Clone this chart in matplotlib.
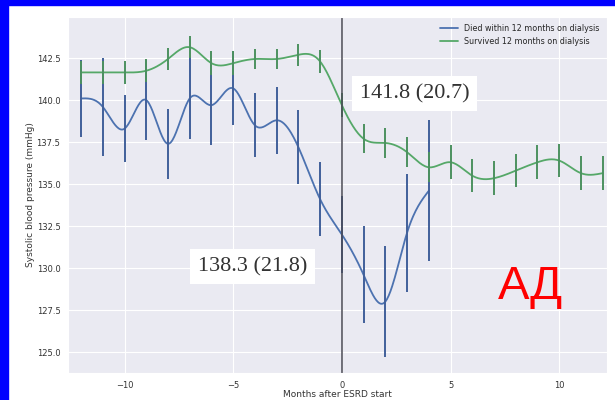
import numpy as np
import matplotlib.pyplot as plt
import matplotlib.patches as mpatches
import seaborn as sns

sns.set_style('darkgrid')

# Mean systolic BP (mmHg) per month relative to ESRD start, with error bars
months_died = [-12, -11, -10, -9, -8, -7, -6, -5, -4, -3, -2, -1, 0, 1, 2, 3, 4]
sbp_died = [140.1, 139.6, 138.3, 140.0, 137.4, 140.1, 139.7, 140.7, 138.5, 138.8,
            137.2, 134.1, 132.0, 129.6, 128.0, 132.1, 134.6]
err_died = [2.3, 2.9, 2.0, 2.4, 2.1, 2.4, 2.4, 2.2, 1.9, 2.0,
            2.2, 2.2, 2.3, 2.9, 3.3, 3.5, 4.2]

months_surv = list(range(-12, 13))
sbp_surv = [141.65, 141.65, 141.65, 141.75, 142.45, 143.15, 142.2, 142.2, 142.45,
            142.45, 142.7, 142.3, 139.7, 137.7, 137.45, 136.9, 136.0, 136.3,
            135.5, 135.35, 135.8, 136.3, 136.4, 135.65, 135.65]
err_surv = [0.7, 0.7, 0.7, 0.7, 0.65, 0.65, 0.7, 0.7, 0.6, 0.6, 0.65, 0.7, 0.7,
            0.85, 0.9, 0.9, 0.9, 1.0, 1.0, 1.0, 1.0, 1.0, 1.0, 1.0, 1.0]

labels = ['Died within 12 months on dialysis', 'Survived 12 months on dialysis']
notes = ['141.8 (20.7)', '138.3 (21.8)']


def smooth(x, y, n=400):
    # natural cubic spline through the monthly means
    x = np.asarray(x, float)
    y = np.asarray(y, float)
    k = len(x)
    h = np.diff(x)
    A = np.zeros((k, k))
    b = np.zeros(k)
    A[0, 0] = A[-1, -1] = 1
    for i in range(1, k - 1):
        A[i, i - 1] = h[i - 1]
        A[i, i] = 2 * (h[i - 1] + h[i])
        A[i, i + 1] = h[i]
        b[i] = 3 * ((y[i + 1] - y[i]) / h[i] - (y[i] - y[i - 1]) / h[i - 1])
    c = np.linalg.solve(A, b)
    bb = (y[1:] - y[:-1]) / h - h * (2 * c[:-1] + c[1:]) / 3
    d = (c[1:] - c[:-1]) / (3 * h)
    xs = np.linspace(x[0], x[-1], n)
    idx = np.clip(np.searchsorted(x, xs) - 1, 0, k - 2)
    t = xs - x[idx]
    ys = y[idx] + bb[idx] * t + c[idx] * t ** 2 + d[idx] * t ** 3
    return xs, ys


fig = plt.figure(figsize=(6.15, 4.0), dpi=100)
ax = fig.add_axes([68 / 615, 27 / 400, 539 / 615, 356 / 400])

blue, green = '#4C72B0', '#55A868'

xs, ys = smooth(months_died, sbp_died)
ax.plot(xs, ys, color=blue, lw=1.3, label=labels[0])
ax.errorbar(months_died, sbp_died, yerr=err_died, fmt='none', ecolor='#41609a', elinewidth=1.4)

xs, ys = smooth(months_surv, sbp_surv)
ax.plot(xs, ys, color=green, lw=1.3, label=labels[1])
ax.errorbar(months_surv, sbp_surv, yerr=err_surv, fmt='none', ecolor='#4c9160', elinewidth=1.4)

ax.axvline(0, color='#4a4a55', lw=1.1)

ax.set_xlim(-12.6, 12.2)
ax.set_ylim(123.75, 144.95)
ax.set_yticks([125.0, 127.5, 130.0, 132.5, 135.0, 137.5, 140.0, 142.5])
ax.set_xticks([-10, -5, 0, 5, 10])
ax.tick_params(labelsize=6, colors='#333333', pad=2)
ax.set_ylabel('Systolic blood pressure (mmHg)', fontsize=6.5, color='#333333', labelpad=1)
ax.set_xlabel('Months after ESRD start', fontsize=6.5, color='#333333', labelpad=0)
ax.legend(loc='upper right', fontsize=5.8, frameon=False, handlelength=2.2)

box = dict(boxstyle='square,pad=0.35', fc='white', ec='none')
ax.text(3.35, 140.4, notes[0], family='Liberation Serif', fontsize=16,
        color='#333333', ha='center', va='center', bbox=box)
ax.text(-4.1, 130.1, notes[1], family='Liberation Serif', fontsize=16,
        color='#333333', ha='center', va='center', bbox=box)
ax.text(8.7, 128.9, 'АД', family='Liberation Sans', fontsize=34,
        color='#FF0000', ha='center', va='center')

# blue frame along the top and left edges
fig.patches.append(mpatches.Rectangle((0, 0), 8 / 615, 1, transform=fig.transFigure,
                                      color='#0000FF', zorder=10))
fig.patches.append(mpatches.Rectangle((0, 1 - 5 / 400), 1, 5 / 400, transform=fig.transFigure,
                                      color='#0000FF', zorder=10))

fig.savefig('out.png', dpi=100)
